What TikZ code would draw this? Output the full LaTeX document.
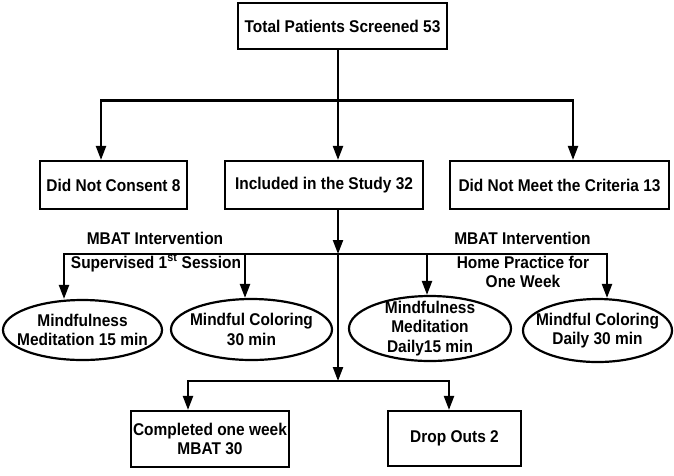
\documentclass[tikz,border=0pt]{standalone}
\usepackage{fontspec}
\setmainfont[FakeStretch=0.91]{Liberation Sans}
\usetikzlibrary{arrows.meta,shapes.geometric}

\begin{document}
\begin{tikzpicture}[x=1pt,y=-1pt,line width=2.2pt,
    font=\fontsize{17}{19.5}\selectfont\bfseries,
    flowbox/.style={draw,rectangle,inner sep=0pt,align=center},
    flowoval/.style={draw,ellipse,inner xsep=-14pt,inner ysep=-8pt,align=center},
    arr/.style={-{Triangle[length=14pt,width=10pt]}}]
  \useasboundingbox (0,0) rectangle (674,475);
  \node[flowbox,minimum width=209pt,minimum height=46pt] (total) at (342.5,26) {Total Patients Screened 53};
  \node[flowbox,minimum width=147pt,minimum height=48pt] (consent) at (113.5,185) {Did Not Consent 8};
  \node[flowbox,minimum width=198pt,minimum height=48pt] (included) at (324,185) {Included in the Study 32};
  \node[flowbox,minimum width=219pt,minimum height=48pt] (criteria) at (559.5,185) {Did Not Meet the Criteria 13};
  \node (mbatleft) at (155,238) {MBAT Intervention};
  \node (mbatright) at (522.5,238) {MBAT Intervention};
  \node (supervised) at (156,263) {Supervised 1\textsuperscript{st} Session};
  \node[align=center] (home) at (523,272) {Home Practice for\\One Week};
  \node[flowoval,minimum width=159pt,minimum height=60pt] (mm1) at (82.5,330) {Mindfulness\\Meditation 15 min};
  \node[flowoval,minimum width=161pt,minimum height=61pt] (mc1) at (251.5,329.5) {Mindful Coloring\\30 min};
  \node[flowoval,minimum width=162pt,minimum height=65pt] (mm2) at (430,328.5) {Mindfulness\\Meditation\\Daily15 min};
  \node[flowoval,minimum width=149pt,minimum height=63pt] (mc2) at (597.5,330.5) {Mindful Coloring\\Daily 30 min};
  \node[flowbox,minimum width=158pt,minimum height=56pt] (completed) at (210,439) {Completed one week\\MBAT 30};
  \node[flowbox,minimum width=133pt,minimum height=55pt] (dropouts) at (454.5,438.5) {Drop Outs 2};

  \coordinate (hub1) at (338,100.5);
  \coordinate (left1) at (101,100.5);
  \coordinate (right1) at (573,100.5);
  \draw (hub1 |- total.south) -- (hub1);
  \draw[arr] (hub1) -| (left1 |- consent.north);
  \draw[arr] (hub1) -- (hub1 |- included.north);
  \draw[arr] (hub1) -| (right1 |- criteria.north);

  \coordinate (hub2) at (338,254);
  \coordinate (drop1) at (64,254);
  \coordinate (drop2) at (245,254);
  \coordinate (drop3) at (427,254);
  \coordinate (drop4) at (607,254);
  \draw[arr] (hub2 |- included.south) -- (hub2);
  \draw[arr] (hub2) -| (drop1 |- mm1.north);
  \draw[arr] (drop2) -- (drop2 |- mc1.north);
  \draw[arr] (drop3) -- (drop3 |- mm2.north);
  \draw[arr] (hub2) -| (drop4 |- mc2.north);

  \coordinate (hub3) at (338,381);
  \coordinate (left3) at (188,381);
  \coordinate (right3) at (449,381);
  \draw[arr] (hub2) -- (hub3);
  \draw[arr] (hub3) -| (left3 |- completed.north);
  \draw[arr] (hub3) -| (right3 |- dropouts.north);
\end{tikzpicture}
\end{document}
